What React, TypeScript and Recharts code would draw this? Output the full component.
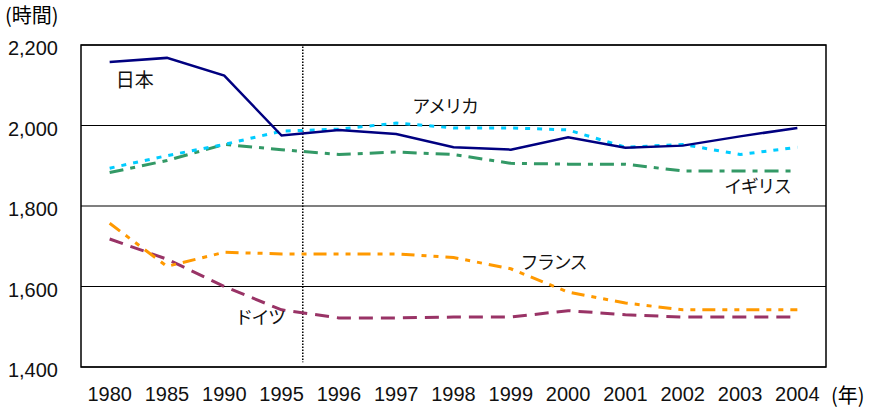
import {
  LineChart,
  Line,
  XAxis,
  YAxis,
  CartesianGrid,
  ReferenceLine,
  ReferenceArea,
  ReferenceDot,
} from 'recharts';

const years = ['1980', '1985', '1990', '1995', '1996', '1997', '1998', '1999', '2000', '2001', '2002', '2003', '2004'];
const japan = [2158, 2168, 2124, 1975, 1989, 1979, 1946, 1940, 1971, 1945, 1950, 1973, 1994];
const america = [1894, 1925, 1953, 1986, 1991, 2006, 1994, 1994, 1989, 1946, 1953, 1928, 1946];
const uk = [1883, 1913, 1953, 1940, 1928, 1934, 1928, 1906, 1904, 1904, 1887, 1887, 1887];
const france = [1757, 1650, 1685, 1681, 1681, 1681, 1672, 1644, 1586, 1559, 1542, 1542, 1542];
const germany = [1718, 1668, 1600, 1542, 1522, 1522, 1524, 1524, 1540, 1530, 1524, 1524, 1524];
const yTicks = [1400, 1600, 1800, 2000, 2200];

// country labels: [name, x (category index), y (hours)]
const seriesLabels: [string, number, number][] = [
  ['日本', 0.44, 2112],
  ['アメリカ', 5.85, 2048],
  ['イギリス', 11.3, 1847],
  ['フランス', 7.74, 1660],
  ['ドイツ', 2.62, 1522],
];

const data = years.map((y, i) => ({
  idx: i,
  japan: japan[i],
  america: america[i],
  uk: uk[i],
  france: france[i],
  germany: germany[i],
}));

const FONT = '"Liberation Sans", Arial, sans-serif';
const JP = '"Noto Sans CJK JP", sans-serif';

export default function App() {
  return (
    <div style={{ position: 'absolute', left: 0, top: 0, width: 874, height: 411, background: '#fff' }}>
      <div style={{ position: 'absolute', left: 5, top: 0, fontFamily: JP, fontSize: 20, color: '#000' }}>(時間)</div>
      <div style={{ position: 'absolute', left: 831, top: 380, fontFamily: JP, fontSize: 20, color: '#000' }}>(年)</div>
      <LineChart width={874} height={411} data={data} margin={{ top: 45, right: 48, left: 8, bottom: 14 }}>
        <CartesianGrid horizontal vertical={false} stroke="#000" strokeWidth={1.2} />
        <XAxis
          dataKey="idx"
          type="number"
          domain={[-0.5, 12.5]}
          ticks={years.map((_, i) => i)}
          tickFormatter={(v: number) => years[v]}
          axisLine={false}
          tickLine={false}
          tickSize={0}
          tickMargin={20}
          height={30}
          interval={0}
          tick={{ fontSize: 20, fill: '#111', fontFamily: FONT }}
        />
        <YAxis
          type="number"
          domain={[1400, 2200]}
          ticks={yTicks}
          tickFormatter={(v: number) => v.toLocaleString('en-US')}
          axisLine={false}
          tickLine={false}
          tickSize={0}
          tickMargin={23}
          width={73}
          tick={{ fontSize: 20, fill: '#111', fontFamily: FONT, dy: 3 }}
        />
        <ReferenceArea x1={-0.5} x2={12.5} y1={1400} y2={2200} fill="none" stroke="#000" strokeWidth={1.5} />
        <ReferenceLine
          segment={[{ x: 3.37, y: 2196 }, { x: 3.37, y: 1412 }]}
          stroke="#000"
          strokeWidth={1.5}
          strokeDasharray="1.5 1.5"
        />
        <Line dataKey="germany" stroke="#993366" strokeWidth={3} strokeDasharray="14 8" dot={false} isAnimationActive={false} />
        <Line dataKey="france" stroke="#FF9900" strokeWidth={3} strokeDasharray="13 7 5 7 5 7" dot={false} isAnimationActive={false} />
        <Line dataKey="uk" stroke="#339966" strokeWidth={3} strokeDasharray="14 7 5 7" dot={false} isAnimationActive={false} />
        <Line dataKey="america" stroke="#00CCFF" strokeWidth={3} strokeDasharray="5 7" dot={false} isAnimationActive={false} />
        <Line dataKey="japan" stroke="#000080" strokeWidth={2.5} dot={false} isAnimationActive={false} />
        {seriesLabels.map(([name, x, y]) => (
          <ReferenceDot
            key={name}
            x={x}
            y={y}
            r={0}
            stroke="none"
            fill="none"
            label={{
              value: name,
              position: 'center',
              fontSize: name === '日本' ? 19 : 18,
              fill: '#111',
              fontFamily: JP,
              letterSpacing: name === '日本' ? 0 : -1.5,
            }}
          />
        ))}
      </LineChart>
    </div>
  );
}
